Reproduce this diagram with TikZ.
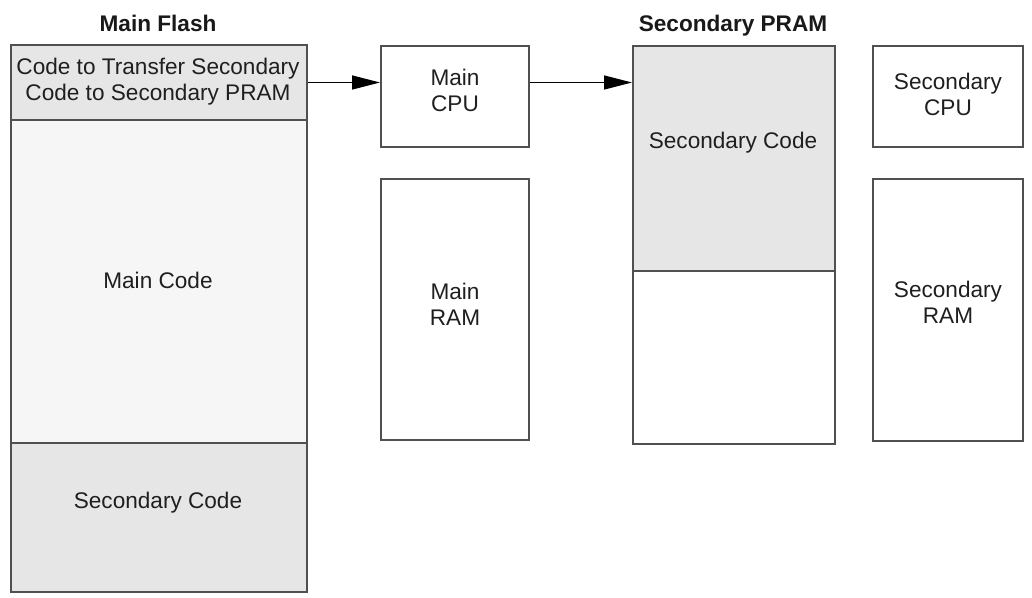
\documentclass[tikz,border=0pt]{standalone}
\usepackage{fontspec}
\setmainfont{Liberation Sans}
\usetikzlibrary{arrows.meta}
\definecolor{edge}{HTML}{505050}
\definecolor{shade}{HTML}{E6E6E6}
\definecolor{pale}{HTML}{F6F6F6}
\tikzset{
  blk/.style={draw=edge, line width=1pt, inner sep=0pt, anchor=north west},
  txt/.style={font=\fontsize{11.3}{13}\selectfont, align=center, text=black!88, inner sep=0pt},
  ttl/.style={font=\fontsize{11.3}{13}\selectfont\bfseries, text=black!90, inner sep=0pt, anchor=base},
  arr/.style={draw=black, line width=0.7pt, -{Triangle[length=14pt,width=7pt]}}
}
\begin{document}
\begin{tikzpicture}[x=0.5pt,y=-0.5pt]
\useasboundingbox (0,0) rectangle (1032,598);
\fill[white] (0,0) rectangle (1032,598);
% Main Flash
\node[ttl] (tflash) at (158,32) {Main Flash};
\node[blk, fill=shade, minimum width=148pt, minimum height=37.5pt] (xfer) at (10,44) {};
\node[blk, fill=pale, minimum width=148pt, minimum height=161.5pt] (mcode) at (10,119) {};
\node[blk, fill=shade, minimum width=148pt, minimum height=74.5pt] (scode) at (10,442) {};
\node[txt] (lxfer) at (158,82) {Code to Transfer Secondary\\Code to Secondary PRAM};
\node[txt] (lmcode) at (158,280) {Main Code};
\node[txt] (lscode) at (158,503) {Secondary Code};
% Main CPU / RAM
\node[blk, fill=white, minimum width=74pt, minimum height=50.5pt] (cpu) at (380,45) {};
\node[blk, fill=white, minimum width=74pt, minimum height=130.5pt] (ram) at (380,178) {};
\node[txt] (lcpu) at (455,90) {Main\\CPU};
\node[txt] (lram) at (455,304) {Main\\RAM};
% Secondary PRAM
\node[ttl] (tpram) at (733,32) {Secondary PRAM};
\node[blk, fill=shade, minimum width=101pt, minimum height=112.5pt] (ptop) at (632,45) {};
\node[blk, fill=white, minimum width=101pt, minimum height=86.5pt] (pbot) at (632,270) {};
\node[txt] (lptop) at (733,143) {Secondary Code};
% Secondary CPU / RAM
\node[blk, fill=white, minimum width=75pt, minimum height=50.5pt] (scpu) at (872,45) {};
\node[blk, fill=white, minimum width=75pt, minimum height=131pt] (sram) at (872,178) {};
\node[txt] (lscpu) at (948,94) {Secondary\\CPU};
\node[txt] (lsram) at (948,302) {Secondary\\RAM};
% arrows
\draw[arr] (xfer.east) -- (cpu.west |- xfer.east);
\draw[arr] (cpu.east |- xfer.east) -- (ptop.west |- xfer.east);
\end{tikzpicture}
\end{document}
